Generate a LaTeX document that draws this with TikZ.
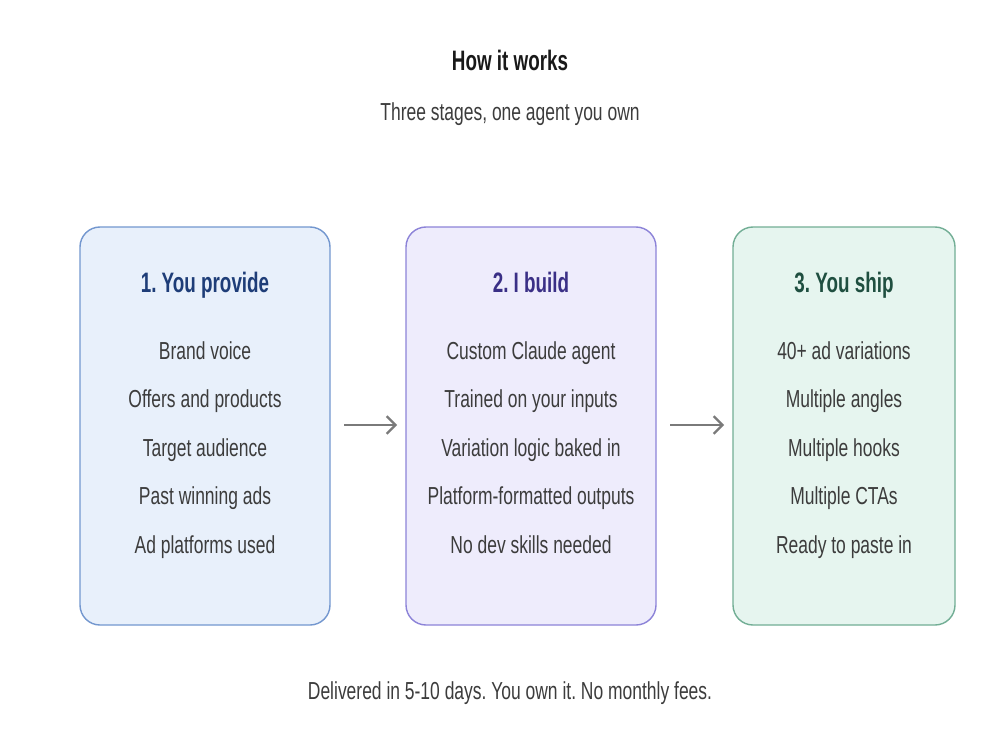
\documentclass[tikz,border=0pt]{standalone}
\usepackage{fontspec}
\setmainfont[FakeStretch=0.71]{Liberation Sans}
\newfontfamily\headfont[FakeStretch=0.67]{Liberation Sans}
\usetikzlibrary{arrows.meta}
\definecolor{fillA}{HTML}{E8F0FB}
\definecolor{lineA}{HTML}{7397CF}
\definecolor{headA}{HTML}{1E3D78}
\definecolor{fillB}{HTML}{EEECFC}
\definecolor{lineB}{HTML}{8C83D8}
\definecolor{headB}{HTML}{3A2F86}
\definecolor{fillC}{HTML}{E6F5EF}
\definecolor{lineC}{HTML}{72AE95}
\definecolor{headC}{HTML}{1F4F40}
\definecolor{itemgray}{HTML}{3C3C3C}
\definecolor{arrowgray}{HTML}{7A7A7A}
\frenchspacing
\begin{document}
\begin{tikzpicture}[x=0.02cm,y=-0.02cm,
  card/.style={draw, line width=0.8pt, rounded corners=0.4cm},
  head/.style={font=\headfont\bfseries\fontsize{16}{18}\selectfont, anchor=base},
  item/.style={font=\fontsize{14}{16}\selectfont, text=itemgray, anchor=base},
  flow/.style={draw=arrowgray, line width=1.3pt, -{Straight Barb[length=5pt,width=10pt]}}]
\useasboundingbox (0,0) rectangle (1000,750);
\fill[white] (0,0) rectangle (1000,750);
\node[font=\headfont\bfseries\fontsize{16}{18}\selectfont, text=black!90, anchor=base] (title) at (510,71) {How it works};
\node[font=\fontsize{14}{16}\selectfont, text=itemgray, anchor=base] (sub) at (510,120) {Three stages, one agent you own};
\draw[card, fill=fillA, draw=lineA] (80,227) rectangle (330,625);
\draw[card, fill=fillB, draw=lineB] (406,227) rectangle (656,625);
\draw[card, fill=fillC, draw=lineC] (733,227) rectangle (955,625);
\node[head, text=headA] (hA) at (205,292) {1. You provide};
\node[head, text=headB] (hB) at (531,292) {2. I build};
\node[head, text=headC] (hC) at (844,292) {3. You ship};
\foreach \t [count=\i] in {Brand voice, Offers and products, Target audience, Past winning ads, Ad platforms used}
  \node[item] (a\i) at (205,{359+48.5*(\i-1)}) {\t};
\foreach \t [count=\i] in {Custom Claude agent, Trained on your inputs, Variation logic baked in, Platform-formatted outputs, No dev skills needed}
  \node[item] (b\i) at (531,{359+48.5*(\i-1)}) {\t};
\foreach \t [count=\i] in {40+ ad variations, Multiple angles, Multiple hooks, Multiple CTAs, Ready to paste in}
  \node[item] (c\i) at (844,{359+48.5*(\i-1)}) {\t};
\coordinate (p0) at (344,425);
\coordinate (p1) at (397,425);
\coordinate (q0) at (670,425);
\coordinate (q1) at (724,425);
\draw[flow] (p0) -- (p1);
\draw[flow] (q0) -- (q1);
\node[font=\fontsize{14}{16}\selectfont, text=itemgray, anchor=base] (foot) at (510,699) {Delivered in 5-10 days. You own it. No monthly fees.};
\end{tikzpicture}
\end{document}
